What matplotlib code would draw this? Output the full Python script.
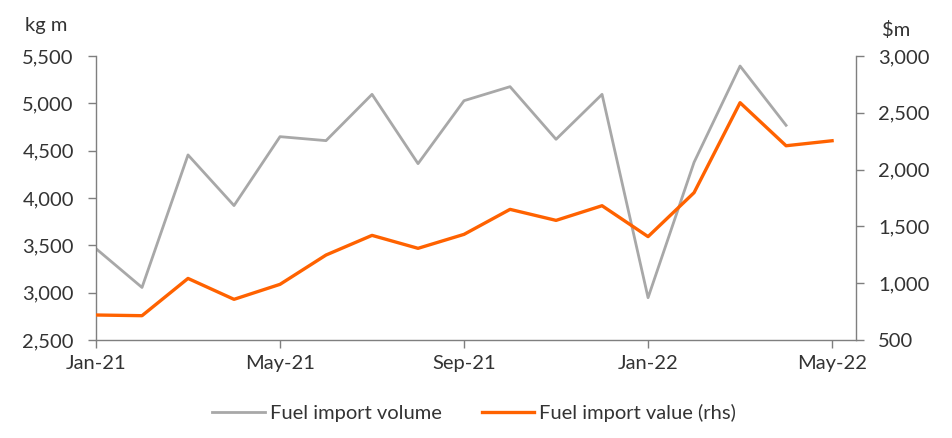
import matplotlib
matplotlib.use('Agg')
import matplotlib.pyplot as plt
import pandas as pd

months = pd.date_range('2021-01-01', '2022-05-01', freq='MS')
volume = [3465, 3055, 4455, 3920, 4648, 4606, 5095, 4363, 5028, 5176,
          4620, 5095, 2947, 4377, 5394, 4768]
value = [720, 714, 1042, 858, 990, 1248, 1421, 1307, 1430, 1650,
         1553, 1682, 1410, 1797, 2589, 2210, 2254]
tick_labels = ['Jan-21', 'May-21', 'Sep-21', 'Jan-22', 'May-22']

plt.rcParams['font.family'] = ['Lato', 'DejaVu Sans']
grey = '#A8A8A8'
orange = '#FF6200'
txt = '#333333'
axc = '#7F7F7F'
fs = 14.5

fig = plt.figure(figsize=(9.52, 4.38), dpi=100)
ax = fig.add_axes([96/952, 1-340/438, (856-96)/952, (340-56)/438])
ax2 = ax.twinx()

x = list(range(len(months)))
l1, = ax.plot(x[:len(volume)], volume, color=grey, lw=2.0, label='Fuel import volume')
l2, = ax2.plot(x, value, color=orange, lw=2.4, label='Fuel import value (rhs)')

ax.set_xlim(0, 16.52)
ax.set_ylim(2500, 5500)
ax2.set_ylim(500, 3000)
ax.set_yticks(range(2500, 5501, 500))
ax2.set_yticks(range(500, 3001, 500))
ax.set_yticklabels([f'{v:,}' for v in range(2500, 5501, 500)])
ax2.set_yticklabels([f'{v:,}' for v in range(500, 3001, 500)])
ax.set_xticks([0, 4, 8, 12, 16])
ax.set_xticklabels(tick_labels)

for a in (ax, ax2):
    a.spines['top'].set_visible(False)
    for s in ('left', 'right', 'bottom'):
        a.spines[s].set_color(axc)
        a.spines[s].set_linewidth(1.0)
    a.tick_params(colors=axc, labelcolor=txt, labelsize=fs, length=6, width=1.0)
ax.spines['right'].set_visible(False)
ax2.spines['left'].set_visible(False)
ax2.spines['bottom'].set_visible(False)
ax.tick_params(axis='y', pad=10)
ax2.tick_params(axis='y', pad=10)
ax.tick_params(axis='x', pad=5)

fig.text(25/952, 1-25/438, 'kg m', color=txt, fontsize=fs, va='center')
fig.text(882/952, 1-30/438, '$m', color=txt, fontsize=fs, va='center')

fig.legend(handles=[l1, l2], loc='center', bbox_to_anchor=(0.498, 1-413/438),
           ncol=2, frameon=False, fontsize=fs, handlelength=2.6,
           handletextpad=0.25, columnspacing=2.0, labelcolor=txt)

fig.savefig('out.png', dpi=100)
